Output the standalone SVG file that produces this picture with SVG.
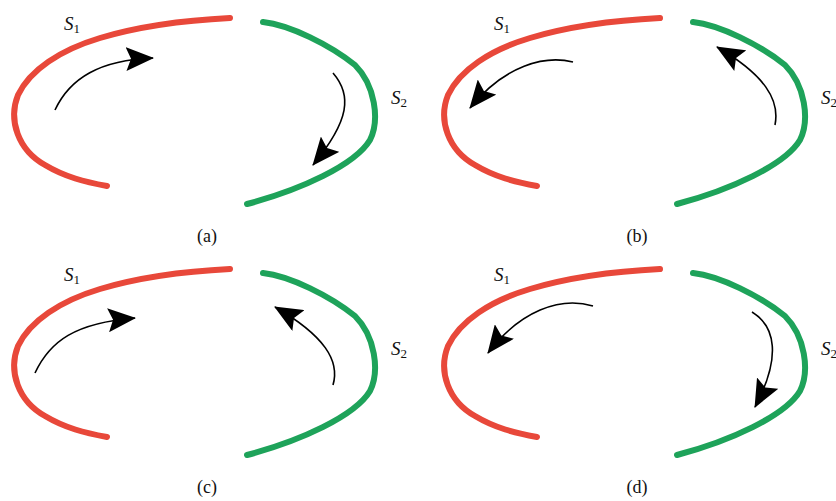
<svg xmlns="http://www.w3.org/2000/svg" width="836" height="501" viewBox="0 0 836 501">
<style>
.s1{fill:none;stroke:#e8483a;stroke-width:6;stroke-linecap:round;stroke-linejoin:round}
.s2{fill:none;stroke:#1ea35a;stroke-width:6;stroke-linecap:round;stroke-linejoin:round}
.ar{fill:none;stroke:#000;stroke-width:1.6;marker-end:url(#head)}
.lb{font-family:"Liberation Serif",serif;font-style:italic;font-size:19px;fill:#111}
.sub{font-style:normal;font-size:13px}
.cap{font-family:"Liberation Serif",serif;font-size:18px;fill:#111;text-anchor:middle}
</style>
<defs>
<marker id="head" markerUnits="userSpaceOnUse" viewBox="0 0 28 24" refX="27" refY="12" markerWidth="28" markerHeight="24" orient="auto">
<path d="M0,0 L28,12 L0,24 L5,12 z" fill="#000"/>
</marker>
<path id="red" d="M230,18 C190,20 140,26 100,38 C60,50 30,70 18,95 C8,120 18,150 45,165 C65,177 85,182 107,186"/>
<path id="green" d="M263,22 C290,25 330,45 355,65 C375,85 380,120 370,140 C355,165 300,190 247,204"/>
</defs>
<g id="panel-a">
<g id="a-S1"><use href="#red" class="s1"/><text class="lb" x="64" y="30">S<tspan class="sub" dy="3">1</tspan></text></g>
<g id="a-S2"><use href="#green" class="s2"/><text class="lb" x="391" y="104">S<tspan class="sub" dy="3">2</tspan></text></g>
<g id="a-conn"><path class="ar" d="M55,110 C70,78 100,60 153,58"/><path class="ar" d="M333,73 C352,95 350,120 313,165"/></g>
<text class="cap" x="207" y="242">(a)</text>
</g>
<g id="panel-b" transform="translate(430,0)">
<g id="b-S1"><use href="#red" class="s1"/><text class="lb" x="64" y="30">S<tspan class="sub" dy="3">1</tspan></text></g>
<g id="b-S2"><use href="#green" class="s2"/><text class="lb" x="391" y="104">S<tspan class="sub" dy="3">2</tspan></text></g>
<g id="b-conn"><path class="ar" d="M143,62 C115,55 75,65 40,108"/><path class="ar" d="M345,125 C350,100 335,75 287,47"/></g>
<text class="cap" x="207" y="242">(b)</text>
</g>
<g id="panel-c" transform="translate(0,251)">
<g id="c-S1"><use href="#red" class="s1"/><text class="lb" x="64" y="30">S<tspan class="sub" dy="3">1</tspan></text></g>
<g id="c-S2"><use href="#green" class="s2"/><text class="lb" x="391" y="104">S<tspan class="sub" dy="3">2</tspan></text></g>
<g id="c-conn"><path class="ar" d="M35,122 C50,90 75,72 135,67"/><path class="ar" d="M333,134 C340,110 325,85 275,56"/></g>
<text class="cap" x="207" y="242">(c)</text>
</g>
<g id="panel-d" transform="translate(430,251)">
<g id="d-S1"><use href="#red" class="s1"/><text class="lb" x="64" y="30">S<tspan class="sub" dy="3">1</tspan></text></g>
<g id="d-S2"><use href="#green" class="s2"/><text class="lb" x="391" y="104">S<tspan class="sub" dy="3">2</tspan></text></g>
<g id="d-conn"><path class="ar" d="M163,55 C130,45 90,60 58,102"/><path class="ar" d="M322,61 C345,75 352,105 325,156"/></g>
<text class="cap" x="207" y="242">(d)</text>
</g>
</svg>
